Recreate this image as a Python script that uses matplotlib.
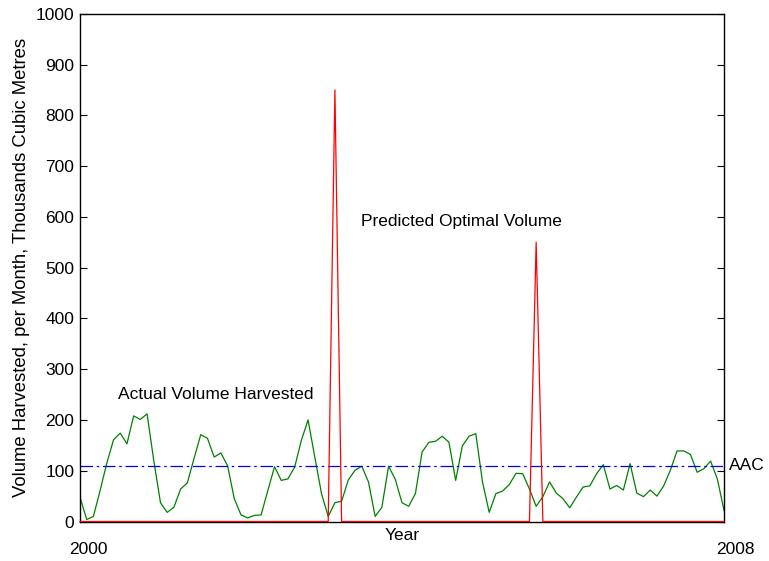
import matplotlib
matplotlib.use("Agg")
import matplotlib.pyplot as plt
import numpy as np

plt.rcParams['font.family'] = ['Liberation Sans', 'DejaVu Sans']

# Monthly data, Jan 2000 .. Jan 2008 (97 points)
actual = [48, 4, 10, 61, 115, 161, 174, 153, 208, 201, 212, 120, 37, 18, 28, 64, 76, 124, 171, 164,
          127, 135, 110, 45, 13, 7, 12, 13, 61, 108, 81, 84, 107, 160, 200, 127, 55, 10, 37, 40,
          82, 101, 109, 78, 10, 28, 109, 83, 37, 30, 55, 137, 156, 158, 168, 156, 81, 149, 168, 173,
          78, 18, 55, 60, 73, 95, 94, 64, 30, 49, 78, 56, 45, 27, 48, 68, 70, 94, 112, 64,
          71, 62, 114, 56, 49, 62, 50, 70, 101, 139, 139, 132, 97, 104, 119, 84, 22]
predicted = [0] * 97
predicted[38] = 850
predicted[68] = 550
aac = 110
start_year = 2000
end_year = 2008

years = start_year + np.arange(len(actual)) / 12.0

FS = 12.5

fig = plt.figure(figsize=(7.69, 5.61), dpi=100)
ax = fig.add_axes([0.104, 0.0704, 0.8375, 0.905])

ax.plot(years, actual, color=(0, 0.5, 0), lw=0.9)
ax.plot(years, predicted, color='red', lw=0.9, zorder=3, clip_on=False)
ax.axhline(aac, color='blue', lw=0.9, linestyle=(0, (10, 3, 2, 3)))

ax.set_xlim(start_year, end_year)
ax.set_ylim(0, 1000)
ax.set_yticks(np.arange(0, 1001, 100))
ax.set_xticks([])
ax.tick_params(axis='y', direction='in', length=5, labelsize=FS, right=True, pad=4)
for s in ax.spines.values():
    s.set_linewidth(1.0)

ax.set_ylabel("Volume Harvested, per Month, Thousands Cubic Metres", fontsize=13.3, labelpad=4)
ax.set_xlabel("Year", fontsize=FS, labelpad=5)

ax.text(2000.47, 250, "Actual Volume Harvested", fontsize=FS, va='center', ha='left')
ax.text(2003.49, 590, "Predicted Optimal Volume", fontsize=FS, va='center', ha='left')
ax.text(1.008, aac, "AAC", transform=ax.get_yaxis_transform(), fontsize=FS, va='center', ha='left')

ax.text(2000.1, -55, str(start_year), fontsize=FS, ha='center', va='center', clip_on=False)
ax.text(2008.14, -55, str(end_year), fontsize=FS, ha='center', va='center', clip_on=False)

fig.savefig("out.png", dpi=100)
